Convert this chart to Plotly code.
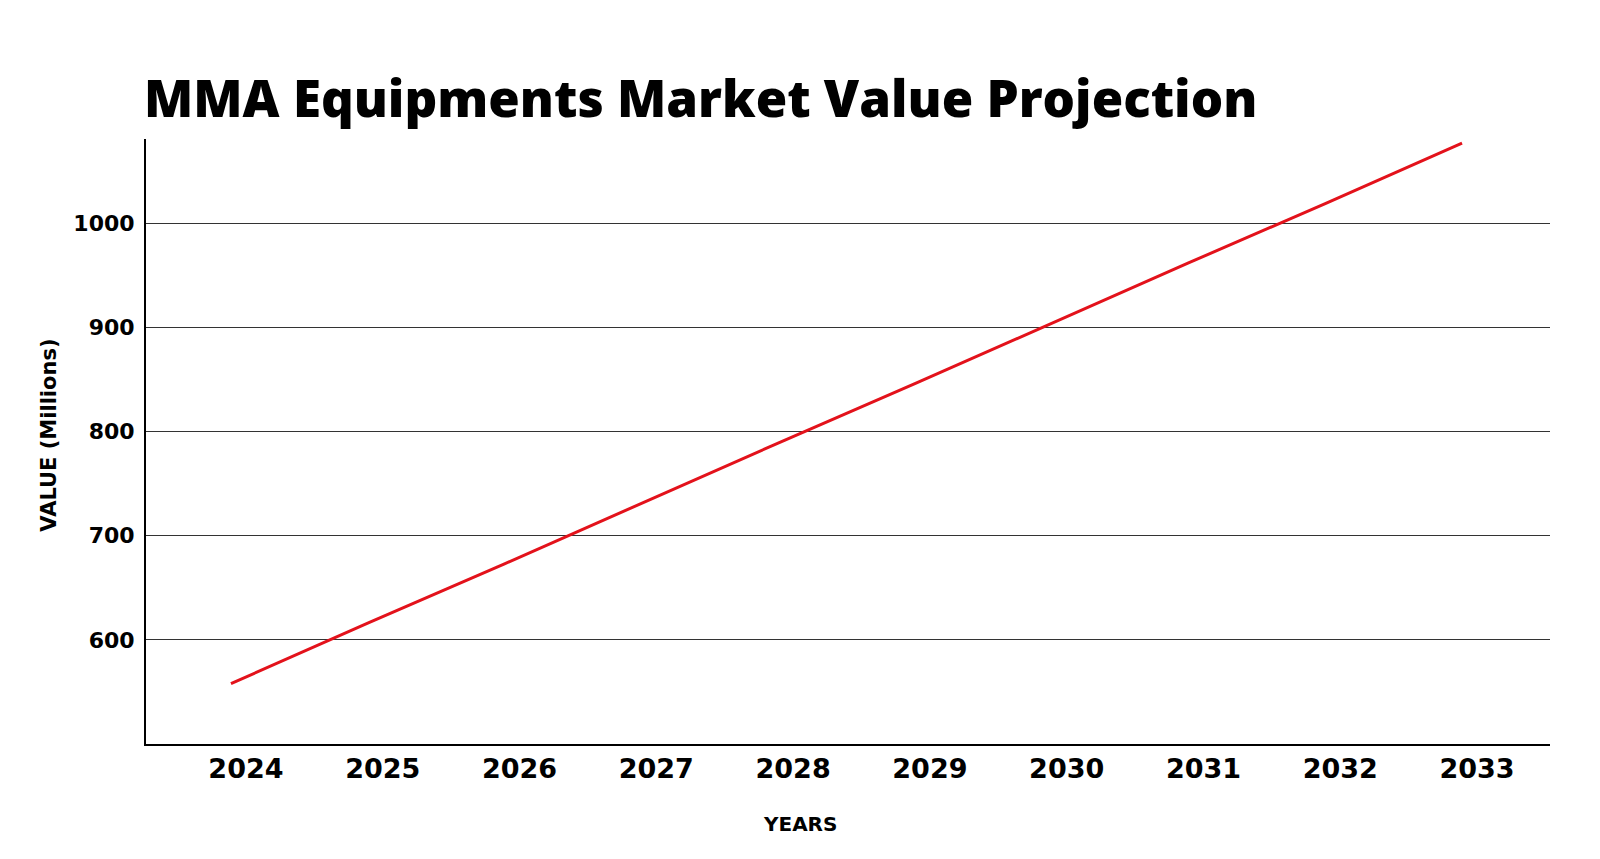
import plotly.graph_objects as go

years = [2024, 2025, 2026, 2027, 2028, 2029, 2030, 2031, 2032, 2033]
values = [558, 616, 673, 731, 789, 846, 904, 962, 1019, 1077]
y_ticks = [600, 700, 800, 900, 1000]
title_text = "MMA Equipments Market Value Projection"
x_title = "YEARS"
y_title = "VALUE (Millions)"

# page body has an 8px default offset; margins compensate for it
fig = go.Figure()
fig.add_trace(go.Scatter(
    x=years, y=values, mode="lines",
    line=dict(color="#e3121b", width=3),
    showlegend=False, hoverinfo="x+y",
))

fig.update_layout(
    width=1600, height=859,
    paper_bgcolor="white", plot_bgcolor="white",
    margin=dict(l=138, r=58, t=131, b=123, autoexpand=False),
    title=dict(
        text=title_text,
        font=dict(family="Open Sans", size=51, color="#000000", weight=800),
        x=136/1600, xanchor="left", xref="container",
        y=1 - 91/859, yanchor="middle", yref="container",
    ),
    font=dict(family="DejaVu Sans", color="#000000"),
)

fig.update_xaxes(
    range=[2023.379, 2033.643],
    tickvals=years, ticktext=[str(y) for y in years],
    showgrid=False, zeroline=False,
    showline=True, linecolor="#000000", linewidth=2,
    ticks="", ticklabelstandoff=0, ticklabelshift=15,
    tickfont=dict(family="DejaVu Sans", size=27, weight="bold", color="#000000"),
)

fig.update_yaxes(
    range=[500, 1081],
    tickvals=y_ticks, ticktext=[str(v) for v in y_ticks],
    showgrid=True, gridcolor="#333333", gridwidth=1,
    zeroline=False,
    showline=True, linecolor="#000000", linewidth=2,
    ticks="", ticklabelstandoff=5,
    tickfont=dict(family="DejaVu Sans", size=22, weight="bold", color="#000000"),
)

fig.add_annotation(
    text=x_title, xref="paper", yref="paper",
    x=0.4658, y=-0.133, xanchor="center", yanchor="middle",
    showarrow=False,
    font=dict(family="DejaVu Sans", size=20, weight="bold", color="#000000"),
)
fig.add_annotation(
    text=y_title, xref="paper", yref="paper",
    x=-0.0691, y=1 - (426.7 - 131) / 605, xanchor="center", yanchor="middle",
    textangle=-90, showarrow=False,
    font=dict(family="DejaVu Sans", size=21, weight="bold", color="#000000"),
)

fig.write_html("out.html")
